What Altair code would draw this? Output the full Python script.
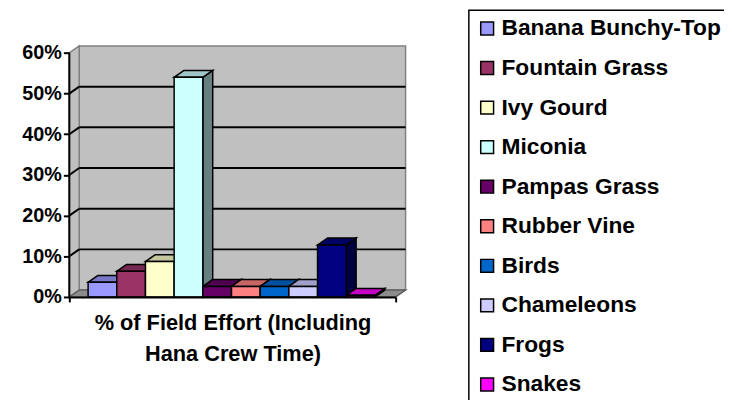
import altair as alt
import pandas as pd

# ---- data ----
names = ["Banana Bunchy-Top", "Fountain Grass", "Ivy Gourd", "Miconia", "Pampas Grass",
         "Rubber Vine", "Birds", "Chameleons", "Frogs", "Snakes"]
values = [3.6, 6.3, 8.7, 54.0, 2.6, 2.6, 2.6, 2.6, 12.8, 0.4]
colors = ["#9999FF", "#993366", "#FFFFCC", "#CCFFFF", "#660066",
          "#FF8080", "#0066CC", "#CCCCFF", "#000080", "#FF00FF"]
y_ticks = [0, 10, 20, 30, 40, 50, 60]
x_title = ["% of Field Effort  (Including", "Hana Crew Time)"]

# ---- 3D-look geometry (in scale units) ----
XMIN, XMAX = -0.655, 10.724
YTOP, YMAX = 60, 62
DX, DY = 0.345, 1.7


def shade(h, f):
    r, g, b = int(h[1:3], 16), int(h[3:5], 16), int(h[5:7], 16)
    return "#%02x%02x%02x" % (round(r * f), round(g * f), round(b * f))


FONT = "Arial"
xs = alt.Scale(domain=[XMIN, XMAX], nice=False, zero=False)
ys = alt.Scale(domain=[0, YMAX], nice=False, zero=False)
xaxis = alt.Axis(values=[XMIN, XMAX], labels=False, grid=False,
                 domainColor="black", domainWidth=2, tickColor="black",
                 tickWidth=2, tickSize=5, title=x_title, titleFont=FONT,
                 titleFontSize=22, titleFontWeight="bold", titleColor="black",
                 titlePadding=10, titleLineHeight=31, zindex=1)
yaxis = alt.Axis(values=y_ticks, labelExpr="datum.value + '%'", domain=False,
                 grid=False, tickColor="black", tickWidth=2, tickSize=6,
                 labelFont=FONT, labelFontSize=20, labelFontWeight="bold",
                 labelColor="black", labelPadding=2, title=None, zindex=1)


def X(f):
    return alt.X(f, scale=xs, axis=xaxis)


def Y(f):
    return alt.Y(f, scale=ys, axis=yaxis)


front = pd.DataFrame({"name": names, "x": list(range(len(names))),
                      "x2": [i + 1 for i in range(len(names))],
                      "y": [0] * len(names), "y2": values})
tops, sides = [], []
for i, (n, v, c) in enumerate(zip(names, values, colors)):
    tc, sc = shade(c, 0.78), shade(c, 0.5)
    tops.append({"name": n, "y": v, "x": i, "x2": i + 1, "fill": tc})
    tops.append({"name": n, "y": v + DY, "x": i + DX, "x2": i + 1 + DX, "fill": tc})
    sides.append({"name": n, "x": i + 1, "y": v, "y2": 0, "fill": sc})
    sides.append({"name": n, "x": i + 1 + DX, "y": v + DY, "y2": DY, "fill": sc})
tops = pd.DataFrame(tops)
sides = pd.DataFrame(sides)

grid = []
for v in y_ticks[1:-1]:
    grid.append({"x": XMIN, "y": v, "x2": XMIN + DX, "y2": v + DY})
    grid.append({"x": XMIN + DX, "y": v + DY, "x2": XMAX + DX, "y2": v + DY})
grid = pd.DataFrame(grid)

wall = pd.DataFrame({"x": [XMIN + DX], "x2": [XMAX + DX], "y": [DY], "y2": [YTOP + DY]})
sidewall = pd.DataFrame({"k": ["a", "a"], "x": [XMIN, XMIN + DX], "y": [YTOP, YTOP + DY], "y2": [0, DY]})
floor = pd.DataFrame({"k": ["a", "a"], "y": [0, DY], "x": [XMIN, XMIN + DX], "x2": [XMAX, XMAX + DX]})
yaxis_line = pd.DataFrame({"x": [XMIN], "y": [0], "y2": [YTOP]})

wall_layer = alt.Chart(wall).mark_rect(fill="#C0C0C0", stroke="#808080", strokeWidth=1.5).encode(
    x=X("x:Q"), x2="x2:Q", y=Y("y:Q"), y2="y2:Q")

side_wall_layer = alt.Chart(sidewall).mark_area(fill="#C0C0C0", stroke="#808080", strokeWidth=1.5).encode(
    x=X("x:Q"), y=Y("y:Q"), y2="y2:Q", detail="k:N")

floor_layer = alt.Chart(floor).mark_area(orient="horizontal", fill="#8C8C8C", stroke="#606060",
                                         strokeWidth=1.5).encode(
    y=Y("y:Q"), x=X("x:Q"), x2="x2:Q", detail="k:N")

grid_layer = alt.Chart(grid).mark_rule(color="black", strokeWidth=2).encode(
    x=X("x:Q"), x2="x2:Q", y=Y("y:Q"), y2="y2:Q")

side_layer = alt.Chart(sides).mark_area(stroke="black", strokeWidth=1.5, strokeJoin="miter").encode(
    x=X("x:Q"), y=Y("y:Q"), y2="y2:Q",
    detail="name:N", fill=alt.Fill("fill:N", scale=None))

top_layer = alt.Chart(tops).mark_area(orient="horizontal", stroke="black", strokeWidth=1.5,
                                      strokeJoin="miter").encode(
    y=Y("y:Q"), x=X("x:Q"), x2="x2:Q",
    detail="name:N", fill=alt.Fill("fill:N", scale=None))

front_layer = alt.Chart(front).mark_rect(stroke="black", strokeWidth=1.5).encode(
    x=X("x:Q"), x2="x2:Q", y=Y("y:Q"), y2="y2:Q",
    color=alt.Color("name:N", scale=alt.Scale(domain=names, range=colors),
                    legend=alt.Legend(title=None, orient="none", legendX=404, legendY=-35,
                                      symbolType="square", symbolSize=169, labelFont=FONT,
                                      labelFontSize=23, labelFontWeight="bold", labelColor="black",
                                      rowPadding=16, labelOffset=3, padding=7,
                                      strokeColor="black", fillColor="white", labelLimit=400)),
)

yline_layer = alt.Chart(yaxis_line).mark_rule(color="black", strokeWidth=2).encode(
    x=X("x:Q"), y=Y("y:Q"), y2="y2:Q")

chart = alt.layer(wall_layer, side_wall_layer, floor_layer, grid_layer, side_layer, top_layer,
                  front_layer, yline_layer).properties(
    width=330, height=255,
    autosize=alt.AutoSizeParams(type="none"),
    padding={"left": 62, "top": 35, "right": 332, "bottom": 102},
).configure_view(stroke=None).configure_legend(strokeWidth=1.5)

chart.save("out.html", embed_options={"renderer": "svg", "actions": False})
